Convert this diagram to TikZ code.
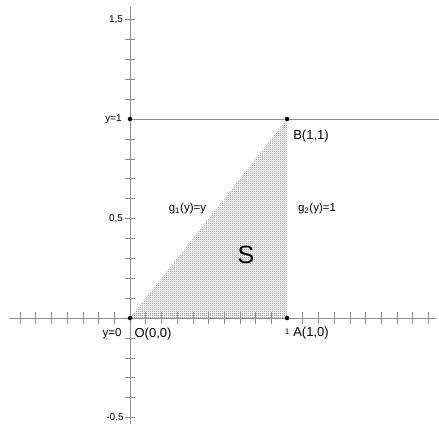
\documentclass[tikz,border=0pt]{standalone}
\usepackage{fontspec}
\setmainfont{Liberation Sans}
\usetikzlibrary{patterns}
\pgfdeclarepatternformonly{checker}{\pgfqpoint{0pt}{0pt}}{\pgfqpoint{2pt}{2pt}}{\pgfqpoint{2pt}{2pt}}{%
  \pgfpathrectangle{\pgfqpoint{0pt}{0pt}}{\pgfqpoint{1pt}{1pt}}%
  \pgfpathrectangle{\pgfqpoint{1pt}{1pt}}{\pgfqpoint{1pt}{1pt}}%
  \pgfusepath{fill}}
\tikzset{
  axis/.style={draw=black!45, line width=0.8pt},
  tick/.style={draw=black!45, line width=0.6pt},
  dot/.style={circle, fill=black, inner sep=0pt, minimum size=4.5pt},
  lbl/.style={inner sep=0pt, font=\fontsize{13}{13}\selectfont},
  small/.style={inner sep=0pt, font=\fontsize{10}{10}\selectfont},
  tiny/.style={inner sep=0pt, font=\fontsize{8}{8}\selectfont},
  region/.style={pattern=checker, pattern color=black!55}
}
\begin{document}
\begin{tikzpicture}[x=157pt, y=199pt]
\useasboundingbox (-0.828,-0.5276) rectangle (1.968,1.598);
\coordinate (Oc) at (0,0);
\coordinate (Ac) at (1,0);
\coordinate (Bc) at (1,1);
% axes
\coordinate (xl) at (-0.77,0);
\coordinate (xr) at (1.95,0);
\coordinate (yb) at (0,-0.53);
\coordinate (yt) at (0,1.565);
\coordinate (hl) at (0,1);
\coordinate (hr) at (1.968,1);
% region
\fill[region] (Oc) -- (Ac) -- (Bc) -- cycle;
\draw[axis] (xl) -- (xr);
\draw[axis] (yb) -- (yt);
\draw[axis] (hl) -- (hr);
% ticks
\foreach \i in {-7,...,-1,1,2,...,9,11,12,...,19}
  \draw[tick] (\i/10,0) ++(0,-6pt) -- ++(0,12pt);
\foreach \j in {-5,...,-1,1,2,...,9,11,12,...,15}
  \draw[tick] (0,\j/10) ++(-5pt,0) -- ++(10pt,0);
% points
\node[dot] (O) at (Oc) {};
\node[dot] (A) at (Ac) {};
\node[dot] (B) at (Bc) {};
\node[dot] (Y1) at (hl) {};
% labels
\node[small] (l15) at ([xshift=-14pt]0,1.5) {1,5};
\node[small] (l05) at ([xshift=-14pt]0,0.5) {0,5};
\node[small] (lm05) at ([xshift=-15pt]0,-0.5) {-0,5};
\node[small] (ly1) at ([xshift=-16.5pt]0,1) {y=1};
\node[small, font=\fontsize{11.5}{11.5}\selectfont] (ly0) at ([xshift=-18pt,yshift=-16pt]0,0) {y=0};
\node[lbl] (lO) at ([xshift=23pt,yshift=-16pt]0,0) {O(0,0)};
\node[tiny] (l1) at ([yshift=-14pt]1,0) {1};
\node[lbl] (lA) at ([xshift=24pt,yshift=-15pt]1,0) {A(1,0)};
\node[lbl] (lB) at ([xshift=24pt,yshift=-17pt]1,1) {B(1,1)};
\node[small, font=\fontsize{11.5}{11.5}\selectfont] (g1) at (0.366,0.548) {g\textsubscript{1}(y)=y};
\node[small, font=\fontsize{11.5}{11.5}\selectfont] (g2) at (1.191,0.548) {g\textsubscript{2}(y)=1};
\node[inner sep=0pt, font=\fontsize{25}{25}\selectfont] (S) at (0.739,0.317) {S};
\end{tikzpicture}
\end{document}
